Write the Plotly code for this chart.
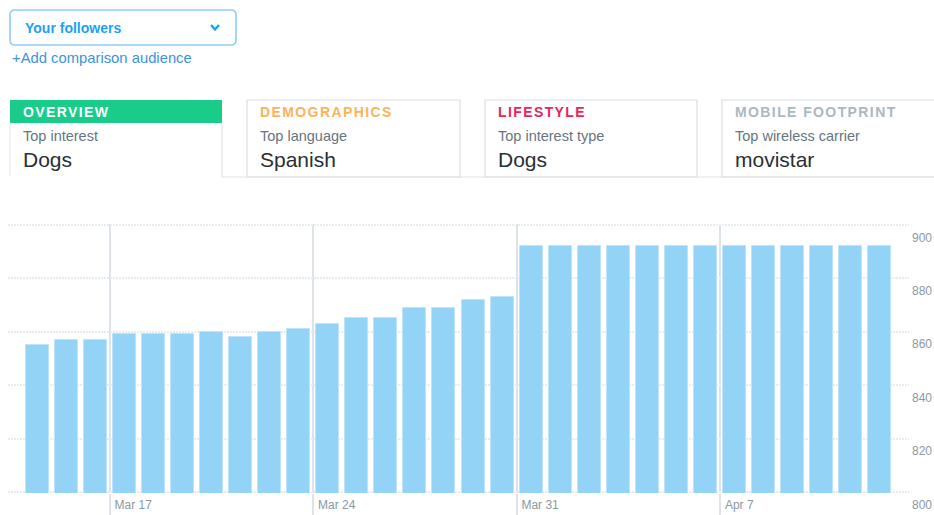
import plotly.graph_objects as go

# ---------------- data ----------------
dates = [
    "2019-03-14", "2019-03-15", "2019-03-16",
    "2019-03-17", "2019-03-18", "2019-03-19", "2019-03-20", "2019-03-21", "2019-03-22", "2019-03-23",
    "2019-03-24", "2019-03-25", "2019-03-26", "2019-03-27", "2019-03-28", "2019-03-29", "2019-03-30",
    "2019-03-31", "2019-04-01", "2019-04-02", "2019-04-03", "2019-04-04", "2019-04-05", "2019-04-06",
    "2019-04-07", "2019-04-08", "2019-04-09", "2019-04-10", "2019-04-11", "2019-04-12",
]
followers = [
    855, 857, 857,
    859, 859, 859, 860, 858, 860, 861,
    863, 865, 865, 869, 869, 872, 873,
    892, 892, 892, 892, 892, 892, 892,
    892, 892, 892, 892, 892, 892,
]
y_ticks = [800, 820, 840, 860, 880, 900]

tab_titles = ["OVERVIEW", "DEMOGRAPHICS", "LIFESTYLE", "MOBILE FOOTPRINT"]
tab_labels = ["Top interest", "Top language", "Top interest type", "Top wireless carrier"]
tab_values = ["Dogs", "Spanish", "Dogs", "movistar"]
tab_colors = ["#ffffff", "#fcb35b", "#e8245e", "#aab8c2"]

# ---------------- layout geometry ----------------
W, H = 934, 515
ML, MR, MT, MB = 8, 25, 224, 22
PW, PH = W - ML - MR, H - MT - MB
FONT = "Liberation Sans, Arial, Helvetica, sans-serif"
DAY_MS = 86400000


def px(x):
    return (x - ML) / PW


def py(y):
    return 1 - (y - MT) / PH


fig = go.Figure()
fig.add_trace(go.Bar(
    x=dates, y=followers,
    xperiod=DAY_MS, xperiodalignment="middle",
    width=0.79 * DAY_MS,
    marker=dict(color="#93d3f5", line=dict(color="#bfe4f9", width=1)),
    hoverinfo="x+y",
))

shapes = []
annotations = []


def rect(x0, y0, x1, y1, line=None, fill=None, width=1.2):
    shapes.append(dict(type="rect", xref="paper", yref="paper",
                       x0=px(x0), x1=px(x1), y0=py(y0), y1=py(y1),
                       line=dict(color=line or "rgba(0,0,0,0)", width=width if line else 0),
                       fillcolor=fill or "rgba(0,0,0,0)", layer="above"))


def seg(x0, y0, x1, y1, color="#dfe5ea", width=1.2):
    shapes.append(dict(type="line", xref="paper", yref="paper",
                       x0=px(x0), x1=px(x1), y0=py(y0), y1=py(y1),
                       line=dict(color=color, width=width), layer="above"))


def text(x, y, s, size, color, bold=False, spacing=None):
    if spacing:
        s = f'<span style="letter-spacing:{spacing}px">{s}</span>'
    annotations.append(dict(xref="paper", yref="paper", x=px(x - 2), y=py(y),
                            xanchor="left", yanchor="middle", showarrow=False,
                            text=f"<b>{s}</b>" if bold else s,
                            font=dict(family=FONT, size=size, color=color)))


# dropdown with rounded corners
x0, y0, x1, y1, r = 10, 10, 236, 45, 5
path = (f"M {px(x0 + r)},{py(y0)} L {px(x1 - r)},{py(y0)} Q {px(x1)},{py(y0)} {px(x1)},{py(y0 + r)} "
        f"L {px(x1)},{py(y1 - r)} Q {px(x1)},{py(y1)} {px(x1 - r)},{py(y1)} "
        f"L {px(x0 + r)},{py(y1)} Q {px(x0)},{py(y1)} {px(x0)},{py(y1 - r)} "
        f"L {px(x0)},{py(y0 + r)} Q {px(x0)},{py(y0)} {px(x0 + r)},{py(y0)} Z")
shapes.append(dict(type="path", xref="paper", yref="paper", path=path,
                   line=dict(color="#8fcdf7", width=1.6), layer="above"))
# chevron
shapes.append(dict(type="path", xref="paper", yref="paper",
                   path=f"M {px(211)},{py(25)} L {px(215)},{py(29.5)} L {px(219)},{py(25)}",
                   line=dict(color="#1da1f2", width=2.4), layer="above"))
text(25, 28, "Your followers", 14, "#1da1f2", bold=True)
text(12, 58, "+Add comparison audience", 14.8, "#3b94d9")

# tabs
tab_x = [(10, 222), (247, 460), (485, 697), (722, 960)]
# selected tab
rect(10, 100, 222, 123, fill="#19cc8a")
seg(10, 123, 10, 176, color="#e6ebef")
seg(222, 123, 222, 177)
seg(222, 177, 934, 177)
for i in range(1, 4):
    a, b = tab_x[i]
    rect(a, 100, b, 177, line="#d9e0e5")

for i, (a, b) in enumerate(tab_x):
    tx = a + 13
    text(tx, 112, tab_titles[i], 14, tab_colors[i], bold=True, spacing=1.4)
    text(tx, 136, tab_labels[i], 14.5, "#66757f")
    text(tx, 159, tab_values[i], 21, "#292f33")

fig.update_layout(
    width=W, height=H, autosize=False,
    margin=dict(l=ML, r=MR, t=MT, b=MB, pad=0),
    paper_bgcolor="white", plot_bgcolor="white",
    showlegend=False, bargap=0,
    font=dict(family=FONT),
    shapes=shapes, annotations=annotations,
    xaxis=dict(
        type="date", automargin=False,
        range=["2019-03-13 12:00", "2019-04-13 12:00"],
        tick0="2019-03-17", dtick=7 * DAY_MS, tickformat="%b %-d",
        showgrid=True, gridcolor="#dde3e8", gridwidth=1.6,
        ticks="outside", ticklen=23, tickcolor="#dde3e8", tickwidth=1.6,
        ticklabelposition="outside right", ticklabelstandoff=1, ticklabelshift=4,
        tickfont=dict(family=FONT, size=12, color="#8a98a3"),
        showline=False, zeroline=False, fixedrange=True,
    ),
    yaxis=dict(
        side="right", range=[799.6, 900.4], automargin=False,
        tickvals=y_ticks, ticktext=[str(v) for v in y_ticks],
        showgrid=True, gridcolor="#e6ecf0", gridwidth=1.5, griddash="2px,1px",
        ticks="", ticklabelposition="outside bottom",
        ticklabelshift=4, ticklabelstandoff=2,
        tickfont=dict(family=FONT, size=12, color="#8a98a3"),
        showline=False, zeroline=False, fixedrange=True,
    ),
)

fig.write_html("out.html", config={"displayModeBar": False},
               post_script="document.body.style.margin='0px';")
